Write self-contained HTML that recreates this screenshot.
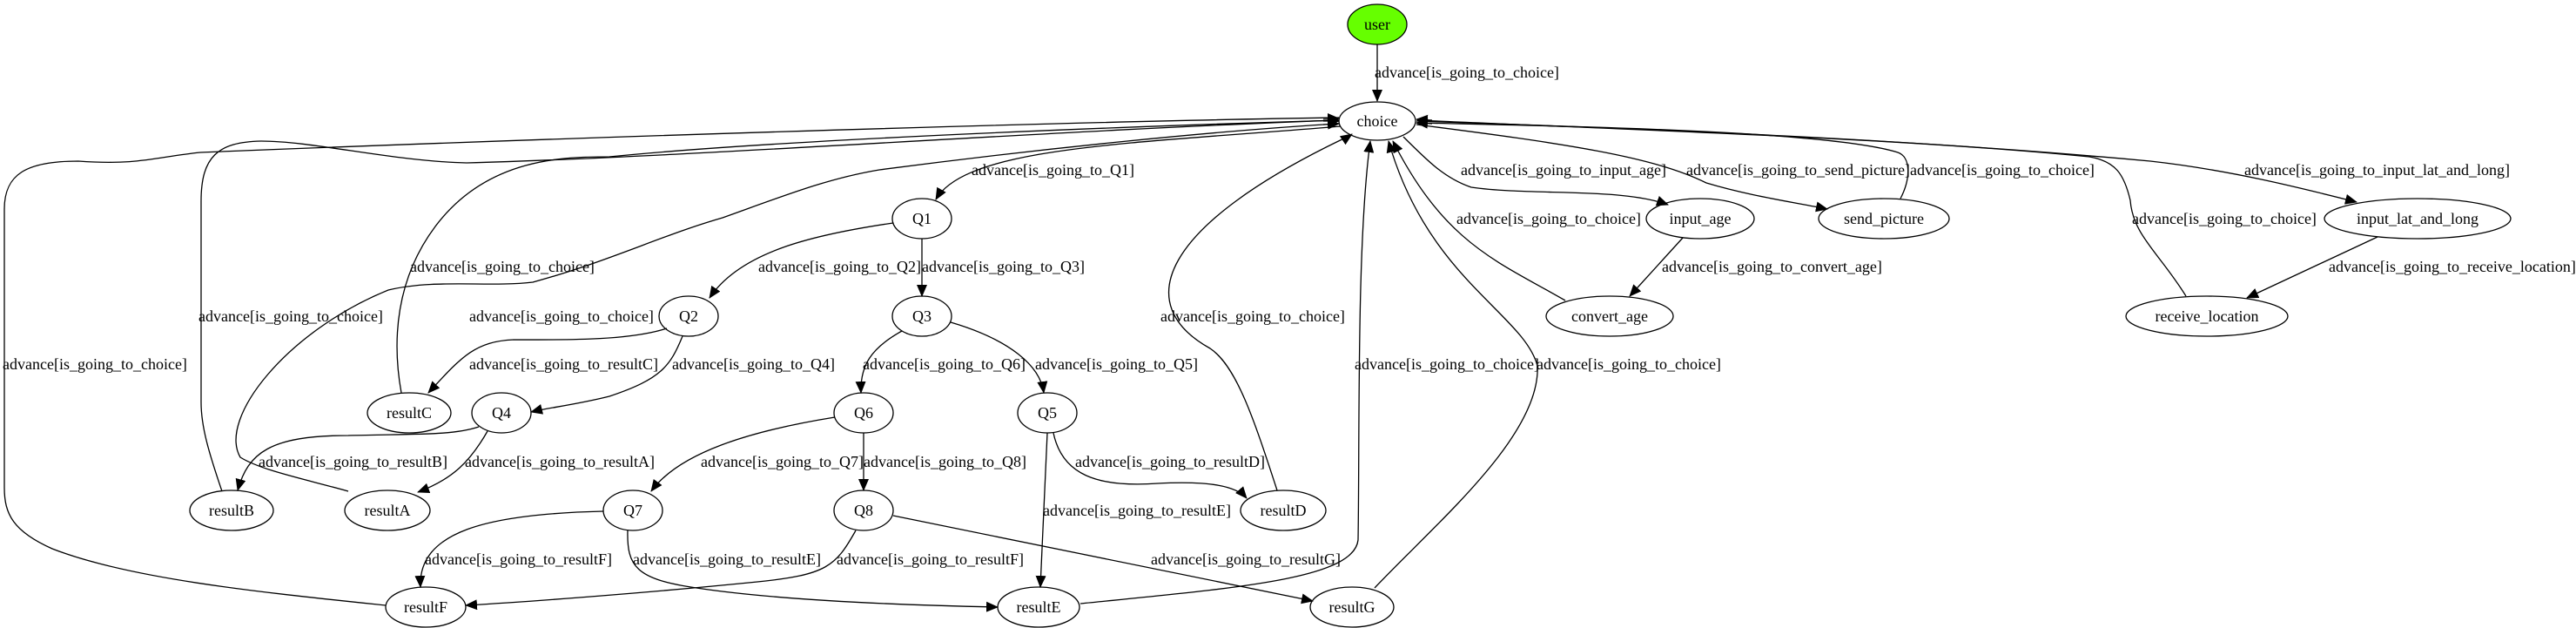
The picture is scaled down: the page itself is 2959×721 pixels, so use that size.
<!DOCTYPE html>
<html><head><meta charset="utf-8"><style>
html,body{margin:0;padding:0;background:#fff;}
svg{display:block;}
text{font-family:"Liberation Serif",serif;font-size:18px;fill:#000;}
.n{fill:none;stroke:#000;stroke-width:1.3;}
.e{fill:none;stroke:#000;stroke-width:1.3;marker-end:url(#a);}
.l{fill:none;stroke:#000;stroke-width:1.3;}
</style></head><body>
<svg width="2959" height="721" viewBox="0 0 2959 721" xmlns="http://www.w3.org/2000/svg">
<defs><marker id="a" markerUnits="userSpaceOnUse" markerWidth="14" markerHeight="12" refX="13" refY="6" orient="auto"><path d="M0,0 L14,6 L0,12 Z" fill="#000"/></marker></defs>

<ellipse cx="1582" cy="28" rx="34" ry="23" fill="#66ff00" stroke="#000" stroke-width="1.3"/>
<text x="1582" y="34" text-anchor="middle">user</text>
<ellipse class="n" cx="1582" cy="139" rx="44" ry="22"/><text x="1582" y="145" text-anchor="middle">choice</text>
<ellipse class="n" cx="1059" cy="251" rx="34" ry="23"/><text x="1059" y="257" text-anchor="middle">Q1</text>
<ellipse class="n" cx="791" cy="363" rx="34" ry="23"/><text x="791" y="369" text-anchor="middle">Q2</text>
<ellipse class="n" cx="1059" cy="363" rx="34" ry="23"/><text x="1059" y="369" text-anchor="middle">Q3</text>
<ellipse class="n" cx="576" cy="474" rx="34" ry="23"/><text x="576" y="480" text-anchor="middle">Q4</text>
<ellipse class="n" cx="1203" cy="474" rx="34" ry="23"/><text x="1203" y="480" text-anchor="middle">Q5</text>
<ellipse class="n" cx="992" cy="474" rx="34" ry="23"/><text x="992" y="480" text-anchor="middle">Q6</text>
<ellipse class="n" cx="727" cy="586" rx="34" ry="23"/><text x="727" y="592" text-anchor="middle">Q7</text>
<ellipse class="n" cx="992" cy="586" rx="34" ry="23"/><text x="992" y="592" text-anchor="middle">Q8</text>
<ellipse class="n" cx="470" cy="474" rx="48" ry="23"/><text x="470" y="480" text-anchor="middle">resultC</text>
<ellipse class="n" cx="266" cy="586" rx="48" ry="23"/><text x="266" y="592" text-anchor="middle">resultB</text>
<ellipse class="n" cx="445" cy="586" rx="49" ry="23"/><text x="445" y="592" text-anchor="middle">resultA</text>
<ellipse class="n" cx="489" cy="697" rx="46" ry="23"/><text x="489" y="703" text-anchor="middle">resultF</text>
<ellipse class="n" cx="1193" cy="697" rx="47" ry="23"/><text x="1193" y="703" text-anchor="middle">resultE</text>
<ellipse class="n" cx="1553" cy="697" rx="48" ry="23"/><text x="1553" y="703" text-anchor="middle">resultG</text>
<ellipse class="n" cx="1474" cy="586" rx="49" ry="23"/><text x="1474" y="592" text-anchor="middle">resultD</text>
<ellipse class="n" cx="1953" cy="251" rx="62" ry="23"/><text x="1953" y="257" text-anchor="middle">input_age</text>
<ellipse class="n" cx="1849" cy="363" rx="73" ry="23"/><text x="1849" y="369" text-anchor="middle">convert_age</text>
<ellipse class="n" cx="2164" cy="251" rx="75" ry="23"/><text x="2164" y="257" text-anchor="middle">send_picture</text>
<ellipse class="n" cx="2777" cy="251" rx="107" ry="23"/><text x="2777" y="257" text-anchor="middle">input_lat_and_long</text>
<ellipse class="n" cx="2535" cy="363" rx="93" ry="23"/><text x="2535" y="369" text-anchor="middle">receive_location</text>

<path class="e" d="M1582,51 L1582,116"/>
<path class="e" d="M1540,145 C1300,165 1110,168 1075,229"/>
<path class="e" d="M1059,274 L1059,340"/>
<path class="e" d="M1026,256 C930,270 850,290 815,342"/>
<path class="e" d="M1036,380 C1000,400 988,420 989,451"/>
<path class="e" d="M1092,370 C1160,390 1195,420 1199,451"/>
<path class="e" d="M992,497 L992,563"/>
<path class="e" d="M959,479 C860,495 780,520 748,564"/>
<path class="e" d="M1210,497 C1220,545 1260,560 1330,555 C1390,552 1420,558 1432,572"/>
<path class="e" d="M1203,497 L1195,674"/>
<path class="l" d="M1467,563 C1440,480 1420,420 1390,400 C1300,350 1330,260 1550,156"/>
<path class="e" d="M1550,156 L1553,154"/>
<path class="e" d="M1026,592 L1508,690"/>
<path class="e" d="M1241,693 C1420,675 1555,665 1560,620 C1562,500 1558,280 1574,162"/>
<path class="e" d="M1579,675 C1650,600 1770,500 1766,420 C1750,360 1640,320 1595,162"/>
<path class="e" d="M1612,157 C1640,185 1660,205 1690,215 C1760,225 1860,215 1916,235"/>
<path class="e" d="M1798,345 C1720,300 1660,280 1600,162"/>
<path class="e" d="M1933,273 L1872,340"/>
<path class="e" d="M1627,143 C1800,165 1900,180 1960,210 C2010,225 2060,232 2099,240"/>
<path class="l" d="M2183,228 C2195,205 2195,180 2180,175 C2100,150 1800,145 1628,141"/>
<path class="e" d="M1645,142 L1627,141"/>
<path class="e" d="M1627,139 C1900,148 2200,160 2470,185 C2560,195 2640,215 2707,232"/>
<path class="l" d="M2511,340 C2480,290 2450,270 2447,230 C2440,200 2430,185 2400,180 C2200,160 1900,150 1628,138"/>
<path class="e" d="M1645,138 L1627,137"/>
<path class="e" d="M2731,272 L2581,342"/>
<path class="e" d="M766,377 C720,392 640,390 590,390 C545,392 530,410 492,451"/>
<path class="e" d="M784,386 C770,420 760,435 700,455 C660,465 630,468 610,473"/>
<path class="e" d="M550,490 C520,500 480,498 400,500 C310,500 285,520 273,563"/>
<path class="e" d="M560,495 C540,530 520,550 480,565"/>
<path class="l" d="M461,451 C450,390 455,320 500,260 C560,180 650,180 700,180 C900,160 1300,145 1537,138"/>
<path class="e" d="M1520,138 L1538,138"/>
<path class="l" d="M400,564 C350,550 300,540 276,525 C250,480 330,380 446,333 C500,320 560,330 612,324 C700,300 760,270 830,250 C900,225 950,205 1010,195 C1200,170 1400,150 1538,142"/>
<path class="e" d="M1520,143 L1538,142"/>
<path class="l" d="M255,564 C240,520 231,490 231,462 L231,231 C231,180 250,163 300,162 C360,162 450,185 536,187 C800,180 1200,150 1537,138"/>
<path class="e" d="M1520,139 L1538,139"/>
<path class="l" d="M443,695 C300,680 150,665 60,630 C15,610 5,590 5,560 L5,240 C5,200 30,185 90,185 C160,190 180,180 230,175 C600,160 1200,140 1538,135"/>
<path class="e" d="M1520,136 L1538,136"/>
<path class="e" d="M693,587 C560,590 480,610 483,674"/>
<path class="e" d="M721,609 C720,650 730,665 800,675 C900,690 1050,695 1146,697"/>
<path class="e" d="M983,609 C960,650 950,660 870,668 C750,680 620,690 535,695"/>

<text x="1579" y="89">advance[is_going_to_choice]</text>
<text x="1116" y="201">advance[is_going_to_Q1]</text>
<text x="871" y="312">advance[is_going_to_Q2]</text>
<text x="1059" y="312">advance[is_going_to_Q3]</text>
<text x="991" y="424">advance[is_going_to_Q6]</text>
<text x="1189" y="424">advance[is_going_to_Q5]</text>
<text x="805" y="536">advance[is_going_to_Q7]</text>
<text x="992" y="536">advance[is_going_to_Q8]</text>
<text x="1235" y="536">advance[is_going_to_resultD]</text>
<text x="1198" y="592">advance[is_going_to_resultE]</text>
<text x="1333" y="369">advance[is_going_to_choice]</text>
<text x="1322" y="648">advance[is_going_to_resultG]</text>
<text x="1556" y="424">advance[is_going_to_choice]</text>
<text x="1765" y="424">advance[is_going_to_choice]</text>
<text x="1678" y="201">advance[is_going_to_input_age]</text>
<text x="1937" y="201">advance[is_going_to_send_picture]</text>
<text x="1673" y="257">advance[is_going_to_choice]</text>
<text x="1909" y="312">advance[is_going_to_convert_age]</text>
<text x="2194" y="201">advance[is_going_to_choice]</text>
<text x="2578" y="201">advance[is_going_to_input_lat_and_long]</text>
<text x="2449" y="257">advance[is_going_to_choice]</text>
<text x="2675" y="312">advance[is_going_to_receive_location]</text>
<text x="539" y="424">advance[is_going_to_resultC]</text>
<text x="772" y="424">advance[is_going_to_Q4]</text>
<text x="297" y="536">advance[is_going_to_resultB]</text>
<text x="534" y="536">advance[is_going_to_resultA]</text>
<text x="471" y="312">advance[is_going_to_choice]</text>
<text x="539" y="369">advance[is_going_to_choice]</text>
<text x="228" y="369">advance[is_going_to_choice]</text>
<text x="3" y="424">advance[is_going_to_choice]</text>
<text x="488" y="648">advance[is_going_to_resultF]</text>
<text x="727" y="648">advance[is_going_to_resultE]</text>
<text x="961" y="648">advance[is_going_to_resultF]</text>
</svg>
</body></html>
